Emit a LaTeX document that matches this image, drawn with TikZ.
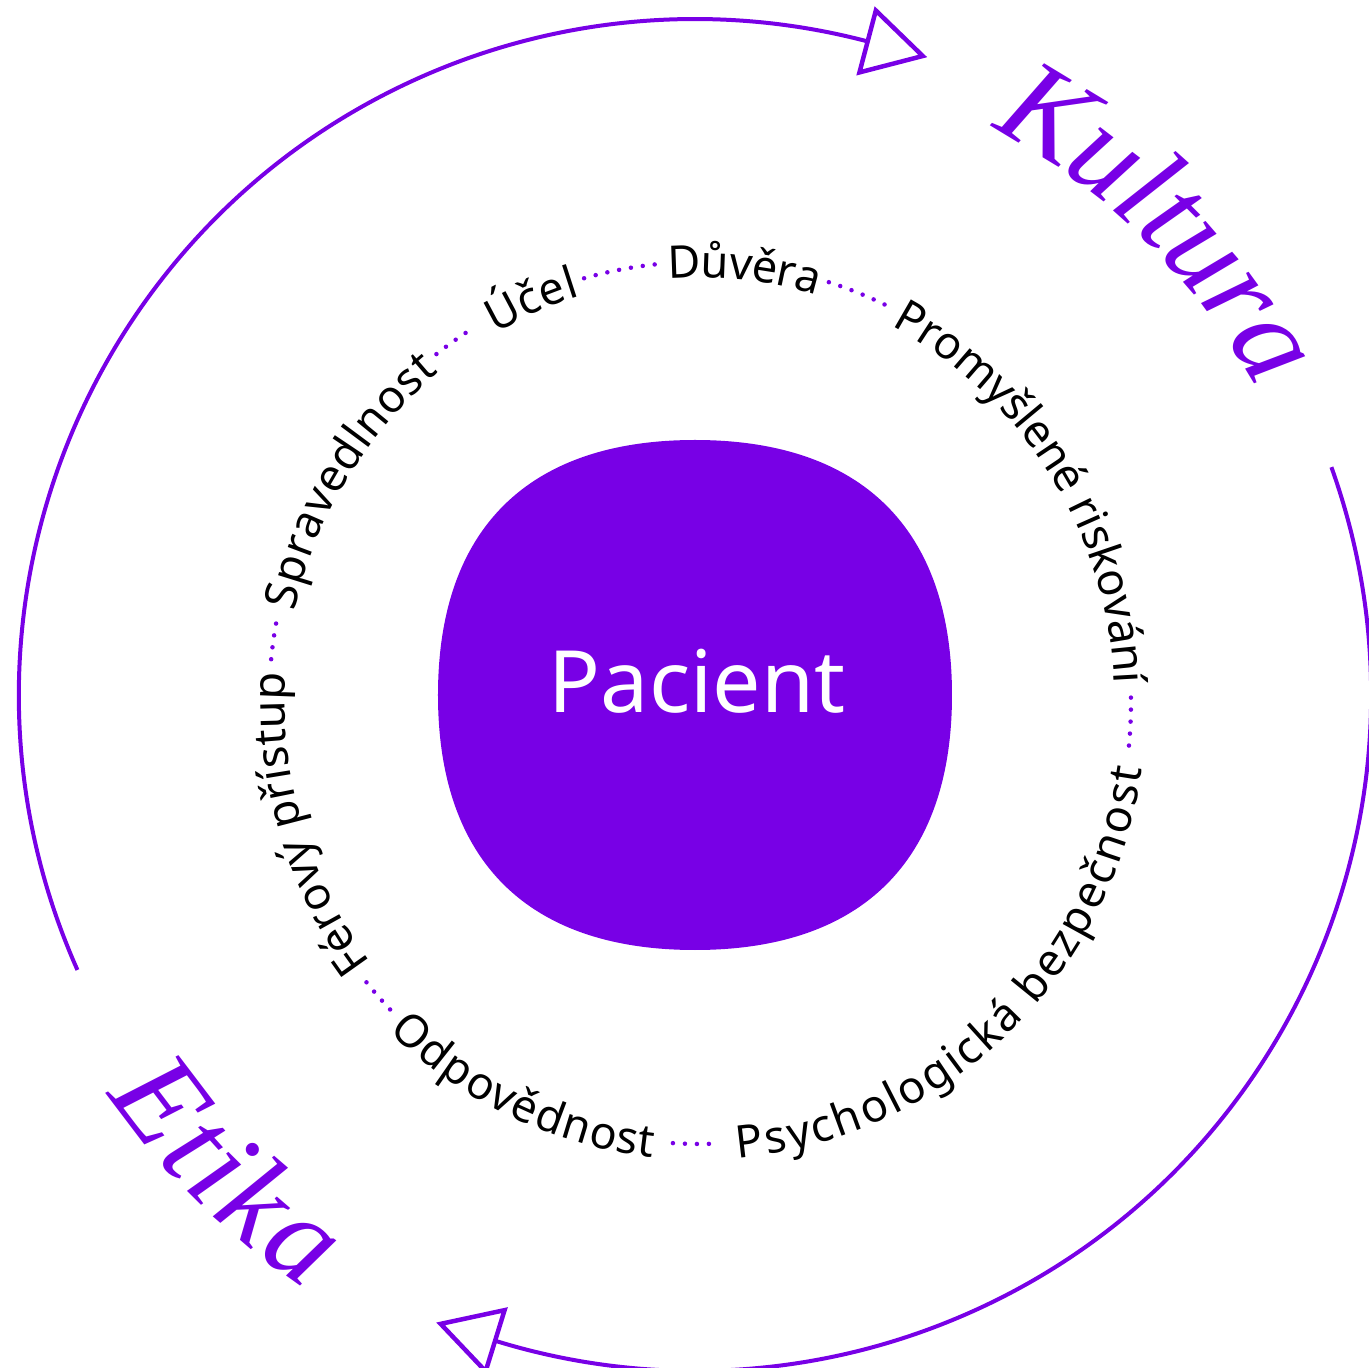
\documentclass[tikz,border=0pt]{standalone}
\usepackage{fontspec}
\setmainfont{Noto Sans}
\newfontfamily\ringfont{Noto Sans}
\newfontfamily\bigserif{Liberation Serif}
\newcommand\ringfmt{\ringfont\fontsize{45pt}{50pt}\selectfont}
\newcommand\bigfmt{\bigserif\itshape\fontsize{124pt}{130pt}\selectfont}
\newcommand\pacfmt{\ringfont\fontsize{86pt}{90pt}\selectfont}
\usetikzlibrary{decorations.text,calc}
\definecolor{vio}{HTML}{7800E6}
\begin{document}
\begin{tikzpicture}[x=1pt,y=1pt,
  ringtext/.style={decorate,decoration={text along path,text={|\ringfmt|#1},text align={fit to path},raise=-16pt}},
  bigtext/.style={decorate,decoration={text along path,text={|\color{vio}\bigfmt|#1},text align={fit to path},raise=-35pt}},
  dotarc/.style={draw=vio,line width=4.5pt,line cap=round,dash pattern=on 0pt off 12pt},
  outerarc/.style={draw=vio,line width=4pt},
  arrowhead/.style={draw=vio,line width=4.5pt,line join=miter}]
\useasboundingbox (-695,-673) rectangle (674,695);
\coordinate (C) at (5,-8);
% blob
\fill[vio] (0,255) .. controls (167,255) and (257,166) .. (257,0)
  .. controls (257,-166) and (167,-255) .. (0,-255)
  .. controls (-167,-255) and (-257,-166) .. (-257,0)
  .. controls (-257,166) and (-167,255) .. (0,255) -- cycle;
\node[text=white,font=\pacfmt,anchor=base,inner sep=0pt] (pac) at (2,-18) {Pacient};
% ring texts (top: clockwise)
\path[ringtext={Férový přístup}] ([shift={(C)}]217.5:431pt and 441pt) arc[start angle=217.5,end angle=176,x radius=431pt,y radius=441pt];
\path[ringtext={Spravedlnost}] ([shift={(C)}]167.5:431pt and 441pt) arc[start angle=167.5,end angle=129,x radius=431pt,y radius=441pt];
\path[ringtext={Účel}] ([shift={(C)}]119.5:431pt and 441pt) arc[start angle=119.5,end angle=106.8,x radius=431pt,y radius=441pt];
\path[ringtext={Důvěra}] ([shift={(C)}]94.2:431pt and 441pt) arc[start angle=94.2,end angle=73.7,x radius=431pt,y radius=441pt];
\path[ringtext={Promyšlené riskování}] ([shift={(C)}]62.4:431pt and 441pt) arc[start angle=62.4,end angle=2.6,x radius=431pt,y radius=441pt];
% ring texts (bottom: counterclockwise)
\path[ringtext={Odpovědnost}] ([shift={(C)}]225.8:431pt and 441pt) arc[start angle=225.8,end angle=264,x radius=431pt,y radius=441pt];
\path[ringtext={Psychologická bezpečnost}] ([shift={(C)}]274.8:431pt and 441pt) arc[start angle=274.8,end angle=351.8,x radius=431pt,y radius=441pt];
% dotted pieces
\draw[dotarc] ([shift={(C)}]174.3:431pt and 441pt) arc[start angle=174.3,end angle=169.4,x radius=431pt,y radius=441pt];
\draw[dotarc] ([shift={(C)}]127.7:431pt and 441pt) arc[start angle=127.7,end angle=121.5,x radius=431pt,y radius=441pt];
\draw[dotarc] ([shift={(C)}]105.6:431pt and 441pt) arc[start angle=105.6,end angle=95.8,x radius=431pt,y radius=441pt];
\draw[dotarc] ([shift={(C)}]72.6:431pt and 441pt) arc[start angle=72.6,end angle=64.3,x radius=431pt,y radius=441pt];
\draw[dotarc] ([shift={(C)}]0.7:431pt and 441pt) arc[start angle=0.7,end angle=-5.9,x radius=431pt,y radius=441pt];
\draw[dotarc] ([shift={(C)}]266.4:431pt and 441pt) arc[start angle=266.4,end angle=272.6,x radius=431pt,y radius=441pt];
\draw[dotarc] ([shift={(C)}]219.3:431pt and 441pt) arc[start angle=219.3,end angle=224.1,x radius=431pt,y radius=441pt];
% outer arcs with open arrowheads
\draw[outerarc] (204:676pt) arc[start angle=204,end angle=75.2,radius=676pt];
\coordinate (M1) at (75.2:676pt);
\draw[arrowhead] ($(M1)+(75.2:32pt)$) -- ($(M1)+(-14.8:57pt)$) -- ($(M1)+(255.2:32pt)$) -- cycle;
\draw[outerarc] (19.7:676pt) arc[start angle=19.7,end angle=-107.2,radius=676pt];
\coordinate (M2) at (-107.2:676pt);
\draw[arrowhead] ($(M2)+(-107.2:32pt)$) -- ($(M2)+(162.8:57pt)$) -- ($(M2)+(72.8:32pt)$) -- cycle;
% big labels
\path[bigtext={Kultura}] (62.3:675pt) arc[start angle=62.3,end angle=28.5,radius=675pt];
\path[bigtext={Etika}] (214:675pt) arc[start angle=214,end angle=237,radius=675pt];
\end{tikzpicture}
\end{document}
